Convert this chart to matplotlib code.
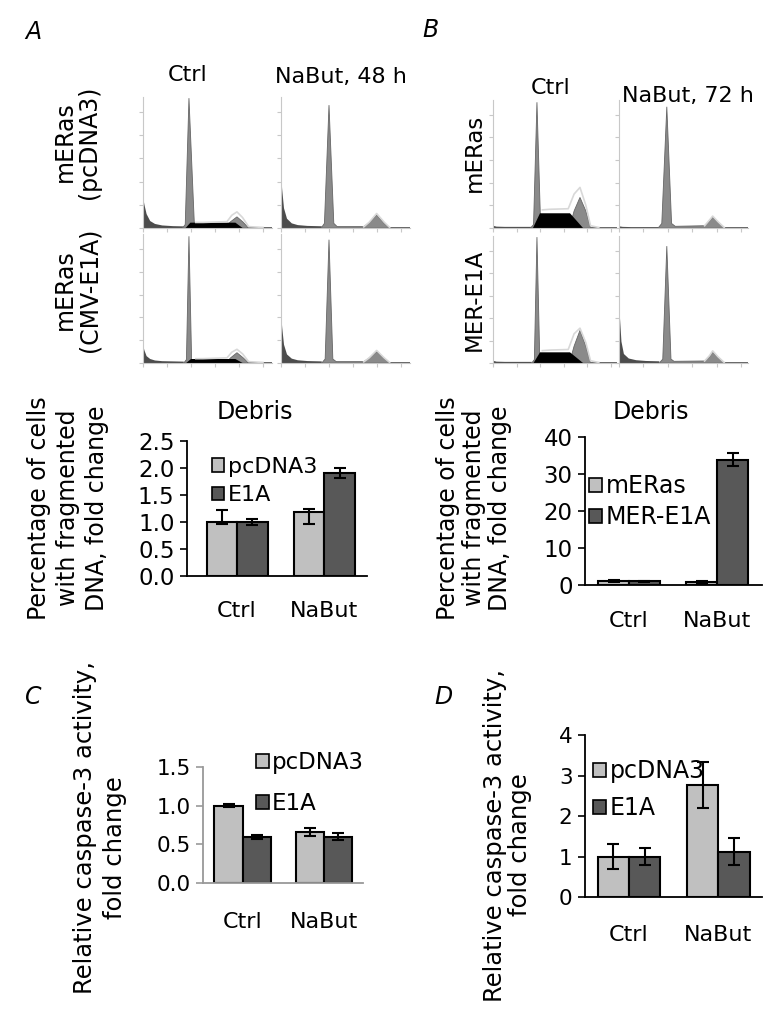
import matplotlib
matplotlib.use("Agg")
import matplotlib.pyplot as plt
from matplotlib.patches import Patch

W, H = 779, 1013
plt.rcParams.update({
    "font.family": ["DejaVu Sans"],
    "axes.linewidth": 1.3,
})

LIGHT = "#c0c0c0"
DARK = "#585858"
DEBRIS_GRAY = "#4c4c4c"
PEAK_GRAY = "#8a8a8a"
FIT_GRAY = "#d8d8d8"
AX_GRAY = "#c8c8c8"

# ── Flow histograms: vertices (channel, count) ──────────────────────────────
# panel A, top row (pcDNA3)
A_CTRL_PC_DEBRIS = ([0, 0, 12, 30, 60, 100, 160, 250, 340, 340],
                    [0, 270, 200, 120, 60, 35, 22, 16, 14, 0])
A_CTRL_PC_CELLS = ([330, 352, 383, 428, 450, 690, 725, 783, 835, 875, 1075],
                   [0, 30, 1120, 30, 0, 0, 50, 96, 50, 5, 3])
A_CTRL_PC_S = ([355, 395, 770, 830], [0, 46, 46, 0])
A_CTRL_PC_FIT = ([440, 500, 700, 740, 783, 830, 880, 1000],
                 [48, 48, 55, 110, 139, 90, 12, 5])

A_NB_PC_DEBRIS = ([0, 0, 10, 25, 50, 90, 140, 220, 340, 340],
                  [0, 470, 330, 170, 80, 40, 25, 18, 15, 0])
A_NB_PC_CELLS = ([335, 362, 400, 440, 468, 690, 730, 797, 860, 900, 1075],
                 [0, 40, 1060, 40, 12, 12, 40, 113, 40, 5, 3])
A_NB_PC_S = ([], [])
A_NB_PC_FIT = ([690, 735, 797, 860, 905], [10, 50, 125, 50, 5])

# panel A, bottom row (CMV-E1A)
A_CTRL_E1A_DEBRIS = ([0, 0, 12, 30, 60, 100, 160, 250, 340, 340],
                     [0, 160, 110, 60, 35, 22, 16, 14, 12, 0])
A_CTRL_E1A_CELLS = ([340, 362, 383, 405, 428, 690, 730, 783, 835, 875, 1075],
                    [0, 30, 1110, 30, 0, 0, 45, 90, 45, 5, 3])
A_CTRL_E1A_S = ([360, 400, 770, 830], [0, 35, 35, 0])
A_CTRL_E1A_FIT = ([440, 500, 700, 740, 783, 830, 880, 1000],
                  [38, 38, 45, 95, 120, 80, 12, 5])

A_NB_E1A_DEBRIS = ([0, 0, 10, 25, 50, 90, 140, 220, 340, 340],
                   [0, 450, 310, 160, 75, 38, 24, 17, 14, 0])
A_NB_E1A_CELLS = ([340, 368, 400, 432, 460, 690, 730, 797, 860, 900, 1075],
                  [0, 35, 1080, 35, 12, 12, 40, 100, 40, 5, 3])
A_NB_E1A_S = ([], [])
A_NB_E1A_FIT = ([690, 735, 797, 860, 905], [10, 45, 110, 45, 5])

# panel B, top row (mERas)
B_CTRL_MER_DEBRIS = ([0, 0, 30, 100, 200, 330, 330], [0, 20, 12, 10, 10, 10, 0])
B_CTRL_MER_CELLS = ([320, 345, 374, 405, 430, 650, 690, 740, 790, 830, 1055],
                    [0, 30, 1110, 30, 0, 0, 150, 270, 150, 5, 3])
B_CTRL_MER_S = ([340, 400, 655, 766], [0, 130, 130, 0])
B_CTRL_MER_FIT = ([420, 480, 640, 690, 740, 790, 830, 900],
                  [160, 165, 170, 300, 358, 200, 20, 5])

B_NB_MER_DEBRIS = ([0, 0, 30, 100, 200, 330, 330], [0, 15, 10, 8, 8, 8, 0])
B_NB_MER_CELLS = ([320, 350, 391, 430, 460, 700, 740, 766, 810, 860, 1055],
                  [0, 40, 1070, 40, 15, 20, 60, 97, 50, 5, 3])
B_NB_MER_S = ([], [])
B_NB_MER_FIT = ([700, 740, 766, 810, 860], [20, 70, 105, 55, 5])

# panel B, bottom row (MER-E1A)
B_CTRL_E1A_DEBRIS = ([0, 0, 30, 100, 200, 330, 330], [0, 20, 12, 10, 10, 10, 0])
B_CTRL_E1A_CELLS = ([330, 352, 374, 398, 420, 650, 690, 740, 790, 830, 1055],
                    [0, 30, 1120, 30, 0, 0, 150, 290, 150, 5, 3])
B_CTRL_E1A_S = ([345, 400, 655, 766], [0, 95, 95, 0])
B_CTRL_E1A_FIT = ([420, 480, 640, 690, 740, 790, 830, 900],
                  [110, 115, 120, 260, 310, 180, 20, 5])

B_NB_E1A_DEBRIS = ([0, 0, 8, 20, 40, 80, 140, 220, 330, 330],
                   [0, 590, 400, 190, 80, 40, 25, 18, 15, 0])
B_NB_E1A_CELLS = ([330, 358, 391, 425, 450, 700, 740, 766, 810, 860, 1055],
                  [0, 35, 1040, 35, 15, 18, 55, 98, 50, 5, 3])
B_NB_E1A_S = ([], [])
B_NB_E1A_FIT = ([700, 740, 766, 810, 860], [18, 65, 108, 55, 5])

# ── Bar charts ──────────────────────────────────────────────────────────────
GROUPS = ["Ctrl", "NaBut"]

DEB_A_PC = [1.0, 1.18]
DEB_A_PC_ERR_LO = [0.04, 0.21]
DEB_A_PC_ERR_HI = [0.23, 0.06]
DEB_A_E1A = [1.0, 1.91]
DEB_A_E1A_ERR = [0.06, 0.09]

DEB_B_MER = [1.0, 0.7]
DEB_B_MER_ERR = [0.3, 0.4]
DEB_B_E1A = [1.0, 33.9]
DEB_B_E1A_ERR = [0.2, 1.8]

CASP_C_PC = [1.0, 0.66]
CASP_C_PC_ERR = [0.02, 0.055]
CASP_C_E1A = [0.595, 0.60]
CASP_C_E1A_ERR = [0.02, 0.05]

CASP_D_PC = [1.0, 2.77]
CASP_D_PC_ERR = [0.3, 0.57]
CASP_D_E1A = [1.0, 1.12]
CASP_D_E1A_ERR = [0.2, 0.33]


def box(x0, y0, x1, y1):
    return [x0 / W, 1 - y1 / H, (x1 - x0) / W, (y1 - y0) / H]


def ftext(x, y, s, **kw):
    kw.setdefault("ha", "center")
    kw.setdefault("va", "center")
    return fig.text(x / W, 1 - y / H, s, **kw)


def histogram(rect, debris, cells, sphase, fit, xmax):
    ax = fig.add_axes(box(*rect))
    ax.fill(debris[0], debris[1], color=DEBRIS_GRAY, lw=0)
    ax.fill(cells[0], cells[1], facecolor=PEAK_GRAY, edgecolor="#666666", lw=0.6)
    if sphase[0]:
        ax.fill(sphase[0], sphase[1], color="black", lw=0)
    ax.plot(fit[0], fit[1], color=FIT_GRAY, lw=1.2)
    ax.set_xlim(0, xmax)
    ax.set_ylim(0, 1130)
    ax.set_xticks(range(0, int(xmax), 200))
    ax.set_yticks(range(0, 1130, 200))
    ax.tick_params(length=3, width=0.8, color=AX_GRAY,
                   labelbottom=False, labelleft=False)
    for side in ("top", "right"):
        ax.spines[side].set_visible(False)
    for side in ("left", "bottom"):
        ax.spines[side].set_color(AX_GRAY)
        ax.spines[side].set_linewidth(0.8)
    ax.patch.set_alpha(0)
    return ax


def bars(rect, xlim, ylim, yticks, fmt, s1, e1, s2, e2, axcolor, tick_fs, xpad):
    ax = fig.add_axes(box(*rect))
    x = range(len(GROUPS))
    w = 0.35
    ekw = dict(elinewidth=1.5, capthick=1.5, capsize=4, ecolor="black")
    ax.bar([i - w / 2 for i in x], s1, w, color=LIGHT, edgecolor="black",
           lw=1.5, yerr=e1, error_kw=ekw, zorder=2)
    ax.bar([i + w / 2 for i in x], s2, w, color=DARK, edgecolor="black",
           lw=1.5, yerr=e2, error_kw=ekw, zorder=2)
    ax.set_xlim(*xlim)
    ax.set_ylim(*ylim)
    ax.set_yticks(yticks)
    ax.set_yticklabels([fmt.format(v) for v in yticks], fontsize=tick_fs)
    ax.set_xticks(list(x))
    ax.set_xticklabels(GROUPS, fontsize=16)
    ax.tick_params(axis="x", length=0, pad=xpad)
    ax.tick_params(axis="y", length=5, width=1.2, color=axcolor, pad=4)
    for side in ("top", "right"):
        ax.spines[side].set_visible(False)
    for side in ("left", "bottom"):
        ax.spines[side].set_color(axcolor)
    ax.patch.set_alpha(0)
    return ax


def legend(ax, labels, x, y, fs, spacing):
    handles = [Patch(facecolor=LIGHT, edgecolor="black", lw=1.2),
               Patch(facecolor=DARK, edgecolor="black", lw=1.2)]
    ax.legend(handles, labels, loc="upper left", frameon=False,
              bbox_to_anchor=(x / W, 1 - y / H), bbox_transform=fig.transFigure,
              fontsize=fs, handlelength=0.55, handleheight=0.55,
              handletextpad=0.15, labelspacing=spacing, borderpad=0, borderaxespad=0)


fig = plt.figure(figsize=(W / 100, H / 100), dpi=100)

# ── Panel A histograms ──────────────────────────────────────────────────────
histogram((143, 97, 272, 228), A_CTRL_PC_DEBRIS, A_CTRL_PC_CELLS, A_CTRL_PC_S, A_CTRL_PC_FIT, 1075)
histogram((281, 97, 410, 228), A_NB_PC_DEBRIS, A_NB_PC_CELLS, A_NB_PC_S, A_NB_PC_FIT, 1075)
histogram((143, 234, 272, 363), A_CTRL_E1A_DEBRIS, A_CTRL_E1A_CELLS, A_CTRL_E1A_S, A_CTRL_E1A_FIT, 1075)
histogram((281, 234, 410, 363), A_NB_E1A_DEBRIS, A_NB_E1A_CELLS, A_NB_E1A_S, A_NB_E1A_FIT, 1075)

# ── Panel B histograms ──────────────────────────────────────────────────────
histogram((493, 100, 617, 228), B_CTRL_MER_DEBRIS, B_CTRL_MER_CELLS, B_CTRL_MER_S, B_CTRL_MER_FIT, 1055)
histogram((619, 100, 748, 228), B_NB_MER_DEBRIS, B_NB_MER_CELLS, B_NB_MER_S, B_NB_MER_FIT, 1055)
histogram((493, 236, 617, 363), B_CTRL_E1A_DEBRIS, B_CTRL_E1A_CELLS, B_CTRL_E1A_S, B_CTRL_E1A_FIT, 1055)
histogram((619, 236, 748, 363), B_NB_E1A_DEBRIS, B_NB_E1A_CELLS, B_NB_E1A_S, B_NB_E1A_FIT, 1055)

# headers and row labels
ftext(33, 32, "A", fontsize=17, style="italic")
ftext(430, 30, "B", fontsize=17, style="italic")
ftext(188, 75, "Ctrl", fontsize=16)
ftext(341, 77, "NaBut, 48 h", fontsize=16)
ftext(551, 88, "Ctrl", fontsize=16)
ftext(688, 96, "NaBut, 72 h", fontsize=16)
ftext(77, 142, "mERas\n(pcDNA3)", fontsize=17, rotation=90, linespacing=1.0)
ftext(77, 290, "mERas\n(CMV-E1A)", fontsize=17, rotation=90, linespacing=1.0)
ftext(474, 153, "mERas", fontsize=16.5, rotation=90)
ftext(474, 300, "MER-E1A", fontsize=16.5, rotation=90)

# ── Debris bar charts ───────────────────────────────────────────────────────
axa = bars((187, 441, 367, 576), (-0.575, 1.49), (0, 2.5), [0, 0.5, 1.0, 1.5, 2.0, 2.5],
           "{:.1f}", DEB_A_PC, [DEB_A_PC_ERR_LO, DEB_A_PC_ERR_HI], DEB_A_E1A, DEB_A_E1A_ERR,
           "black", 16.5, 18)
legend(axa, ["pcDNA3", "E1A"], 212, 457, 16, 0.37)
ftext(255, 412, "Debris", fontsize=17)
ftext(68, 508, "Percentage of cells\nwith fragmented\nDNA, fold change",
      fontsize=17, rotation=90, linespacing=1.25)

axb = bars((585, 437, 762, 585), (-0.5, 1.51), (0, 40), [0, 10, 20, 30, 40],
           "{:.0f}", DEB_B_MER, DEB_B_MER_ERR, DEB_B_E1A, DEB_B_E1A_ERR, "black", 16.5, 19)
legend(axb, ["mERas", "MER-E1A"], 589, 474, 17, 0.3)
ftext(651, 412, "Debris", fontsize=17)
ftext(474, 508, "Percentage of cells\nwith fragmented\nDNA, fold change",
      fontsize=17, rotation=90, linespacing=1.12)

# ── Caspase-3 bar charts ────────────────────────────────────────────────────
axc = bars((203, 767, 363, 883), (-0.49, 1.48), (0, 1.5), [0, 0.5, 1.0, 1.5],
           "{:.1f}", CASP_C_PC, CASP_C_PC_ERR, CASP_C_E1A, CASP_C_E1A_ERR, "#999999", 15.5, 21)
legend(axc, ["pcDNA3", "E1A"], 256, 751, 16.5, 0.8)
ftext(33, 697, "C", fontsize=17, style="italic")
ftext(85, 828, "Relative caspase-3 activity,", fontsize=17.5, rotation=90)
ftext(115, 848, "fold change", fontsize=17.5, rotation=90)

axd = bars((585, 735, 762, 897), (-0.494, 1.49), (0, 4), [0, 1, 2, 3, 4],
           "{:.0f}", CASP_D_PC, CASP_D_PC_ERR, CASP_D_E1A, CASP_D_E1A_ERR, "black", 15.5, 20)
legend(axd, ["pcDNA3", "E1A"], 593, 759, 17, 0.55)
ftext(443, 697, "D", fontsize=17, style="italic")
ftext(495, 835, "Relative caspase-3 activity,", fontsize=17.5, rotation=90)
ftext(520, 845, "fold change", fontsize=17.5, rotation=90)

fig.savefig("out.png", dpi=100)
